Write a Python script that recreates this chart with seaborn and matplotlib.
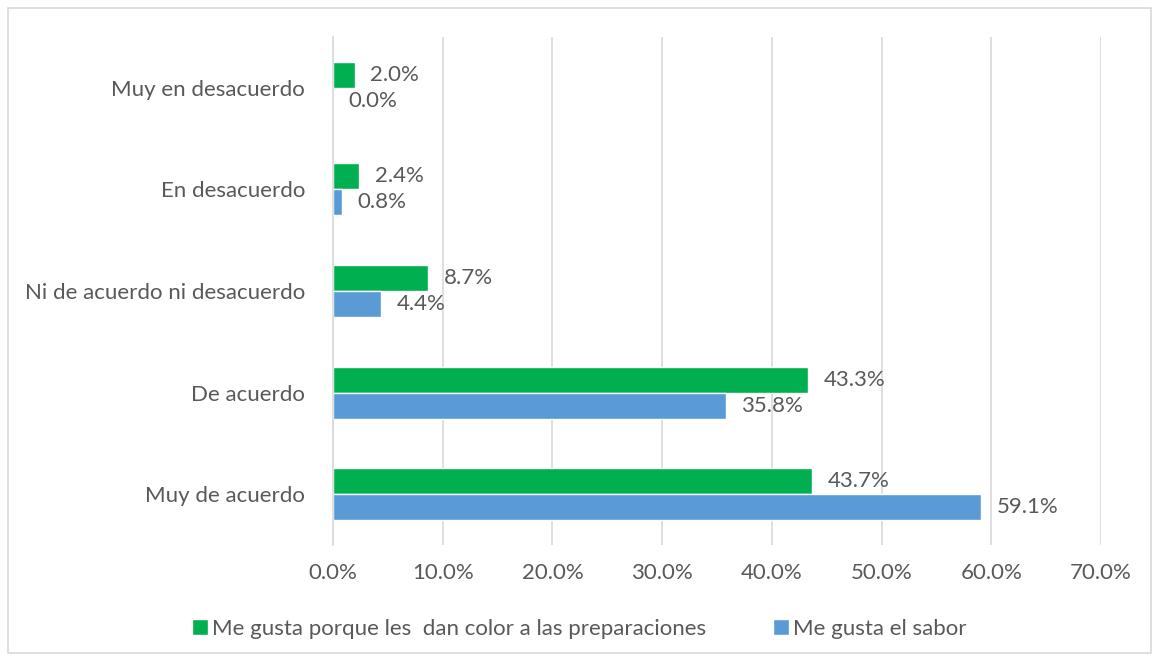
import pandas as pd
import matplotlib.pyplot as plt
import seaborn as sns
from matplotlib.patches import Rectangle

# datos
categorias = ['Muy en desacuerdo', 'En desacuerdo', 'Ni de acuerdo ni desacuerdo',
              'De acuerdo', 'Muy de acuerdo']
serie_color = 'Me gusta porque les  dan color a las preparaciones'
serie_sabor = 'Me gusta el sabor'
valores_color = [2.0, 2.4, 8.7, 43.3, 43.7]
valores_sabor = [0.0, 0.8, 4.4, 35.8, 59.1]
xticks = [0, 10, 20, 30, 40, 50, 60, 70]

colores = {serie_color: '#00B050', serie_sabor: '#5B9BD5'}
gris = '#595959'
fs = 16

df = pd.DataFrame({
    'categoria': categorias * 2,
    'serie': [serie_color] * len(categorias) + [serie_sabor] * len(categorias),
    'valor': valores_color + valores_sabor,
})

sns.set_style('white')
plt.rcParams['font.family'] = ['Lato', 'DejaVu Sans']

fig = plt.figure(figsize=(11.59, 6.61), dpi=100)
ax = fig.add_axes([333 / 1159, 1 - 545 / 661, (1101 - 333) / 1159, (545 - 37) / 661])

sns.barplot(data=df, x='valor', y='categoria', hue='serie', order=categorias,
            hue_order=[serie_color, serie_sabor], palette=colores, orient='h',
            width=0.51, saturation=1, ax=ax, legend=True)

for cont in ax.containers:
    ax.bar_label(cont, labels=[f'{v:.1f}%' for v in cont.datavalues],
                 padding=11, fontsize=fs, color=gris)

ax.set_xlim(0, 70)
ax.set_xticks(xticks)
ax.set_xticklabels([f'{t:.1f}%' for t in xticks], fontsize=fs, color=gris)
ax.tick_params(axis='y', labelsize=fs, labelcolor=gris, length=0, pad=20)
ax.tick_params(axis='x', length=0, pad=13)
ax.set_xlabel('')
ax.set_ylabel('')
ax.grid(axis='x', color='#D9D9D9', linewidth=1.2)
ax.set_axisbelow(True)
for s in ['top', 'right', 'bottom']:
    ax.spines[s].set_visible(False)
ax.spines['left'].set_color('#D9D9D9')
ax.spines['left'].set_linewidth(1.2)

handles, labels = ax.get_legend_handles_labels()
ax.legend_.remove()
fig.legend(handles, labels, loc='center', bbox_to_anchor=(0.5, 1 - 629 / 661),
           ncol=2, frameon=False, fontsize=fs, labelcolor=gris,
           handlelength=0.7, handleheight=0.7, handletextpad=0.2, columnspacing=3)

# borde del gráfico
fig.patches.append(Rectangle((8 / 1159, 8 / 661), 1 - 16 / 1159, 1 - 16 / 661,
                             transform=fig.transFigure, fill=False,
                             edgecolor='#D9D9D9', linewidth=1.2))

fig.savefig('out.png', dpi=100)
